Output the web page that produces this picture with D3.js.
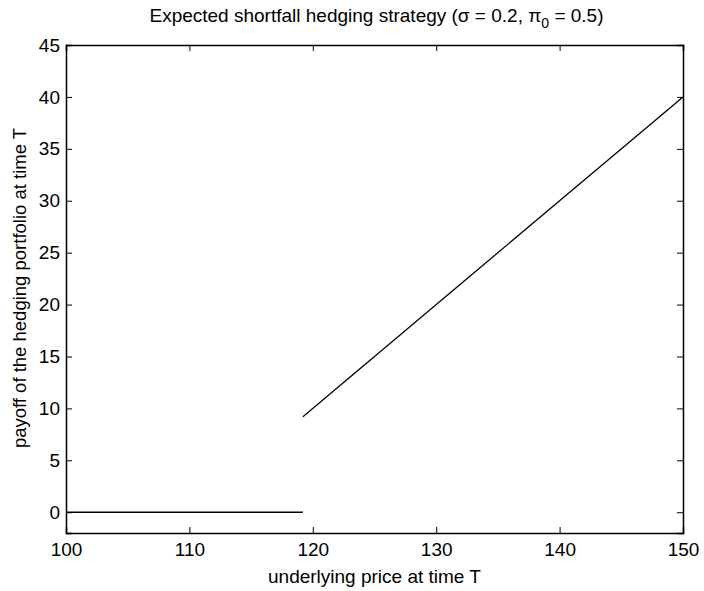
<!DOCTYPE html>
<html>
<head>
<meta charset="utf-8">
<script src="https://cdn.jsdelivr.net/npm/d3@7"></script>
<style>
  body { margin: 0; background: #fff; }
  svg text { font-family: "Liberation Sans", Arial, Helvetica, sans-serif; fill: #000; }
</style>
</head>
<body>
<svg id="chart" width="704" height="591"></svg>
<script>
// Hedging portfolio payoff: zero below the threshold, linear above it
const lowerPrices = [100, 119.2];
const lowerPayoff = [0, 0];
const upperPrices = [119.2, 150];
const upperPayoff = [9.2, 40];

const xTicks = [100, 110, 120, 130, 140, 150];
const yTicks = [0, 5, 10, 15, 20, 25, 30, 35, 40, 45];

const W = 704, H = 591;
const m = { left: 66, right: 21, top: 45, bottom: 58 };

const svg = d3.select("#chart");
const x = d3.scaleLinear().domain([100, 150]).range([m.left, W - m.right]);
const y = d3.scaleLinear().domain([-2, 45]).range([H - m.bottom, m.top]);

const fs = 19, tickLen = 6;

// Axes with inward ticks on all four sides
const gB = svg.append("g").attr("transform", `translate(0,${H - m.bottom})`)
  .call(d3.axisBottom(x).tickValues(xTicks).tickSize(-tickLen).tickPadding(10));
const gT = svg.append("g").attr("transform", `translate(0,${m.top})`)
  .call(d3.axisTop(x).tickValues(xTicks).tickSize(-tickLen).tickFormat(""));
const gL = svg.append("g").attr("transform", `translate(${m.left},0)`)
  .call(d3.axisLeft(y).tickValues(yTicks).tickSize(-tickLen).tickPadding(6));
const gR = svg.append("g").attr("transform", `translate(${W - m.right},0)`)
  .call(d3.axisRight(y).tickValues(yTicks).tickSize(-tickLen).tickFormat(""));

[gB, gT, gL, gR].forEach(g => {
  g.select(".domain").attr("stroke", "#000").attr("stroke-width", 1.5);
  g.selectAll(".tick line").attr("stroke", "#000").attr("stroke-width", 1);
  g.selectAll(".tick text").attr("font-size", fs).attr("font-family", "Liberation Sans, Arial, sans-serif").attr("fill", "#000");
});

// Data lines
const line = d3.line().x(d => x(d[0])).y(d => y(d[1]));
svg.append("path").datum(d3.zip(lowerPrices, lowerPayoff))
  .attr("d", line).attr("fill", "none").attr("stroke", "#000").attr("stroke-width", 1.5);
svg.append("path").datum(d3.zip(upperPrices, upperPayoff))
  .attr("d", line).attr("fill", "none").attr("stroke", "#000").attr("stroke-width", 1.3);

// Axis labels
svg.append("text").attr("x", (m.left + W - m.right) / 2).attr("y", 583)
  .attr("text-anchor", "middle").attr("font-size", fs).text("underlying price at time T");
svg.append("text").attr("transform", `translate(26,${(m.top + H - m.bottom) / 2 - 1}) rotate(-90)`)
  .attr("text-anchor", "middle").attr("font-size", 18.5).text("payoff of the hedging portfolio at time T");

// Title with σ and subscripted π
const title = svg.append("text").attr("x", (m.left + W - m.right) / 2 + 2).attr("y", 22)
  .attr("text-anchor", "middle").attr("font-size", fs);
title.append("tspan").text("Expected shortfall hedging strategy (σ = 0.2, π");
title.append("tspan").attr("font-size", 14).attr("dy", 6).text("0");
title.append("tspan").attr("dy", -6).text(" = 0.5)");
</script>
</body>
</html>
